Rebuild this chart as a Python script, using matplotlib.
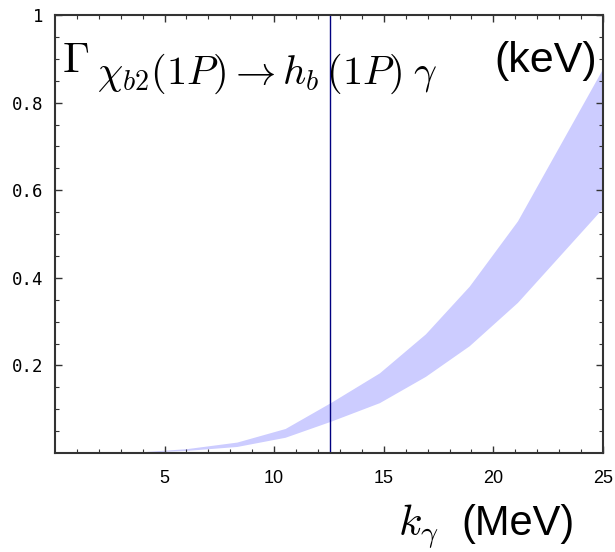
import matplotlib.pyplot as plt
import numpy as np

# photon energy samples (MeV) and band edges (keV)
k_gamma = np.array([0, 2, 4, 6, 8.3, 10.5, 12.6, 14.8, 16.9, 18.9, 21.1, 25])
width_upper = np.array([0, 0.0005, 0.003, 0.010, 0.025, 0.056, 0.116, 0.183, 0.272, 0.381, 0.530, 0.879])
width_lower = np.array([0, 0.0003, 0.002, 0.006, 0.015, 0.036, 0.073, 0.115, 0.175, 0.245, 0.344, 0.560])

k_line = 12.57
x_ticks = [5, 10, 15, 20, 25]
y_ticks = [0.2, 0.4, 0.6, 0.8, 1.0]
y_ticklabels = ['0.2', '0.4', '0.6', '0.8', '1']

plt.rcParams['mathtext.fontset'] = 'cm'

fig = plt.figure(figsize=(6.15, 5.52), dpi=100)
ax = fig.add_axes([0.0894, 0.1793, 0.891, 0.7935])

ax.fill_between(k_gamma, width_lower, width_upper, color='#ccccff', linewidth=0)
ax.axvline(k_line, color='#000080', linewidth=1)

ax.set_xlim(0, 25)
ax.set_ylim(0, 1)
ax.set_xticks(x_ticks)
ax.set_xticklabels([str(t) for t in x_ticks], family='Liberation Sans', fontsize=13)
ax.set_xticks(np.arange(1, 25), minor=True)
ax.set_yticks(y_ticks)
ax.set_yticklabels(y_ticklabels, family='DejaVu Sans Mono', fontsize=12.5)
ax.set_yticks(np.arange(0.05, 1.0, 0.05), minor=True)
ax.tick_params(which='both', direction='in', top=True, right=True, color='#333333')
ax.tick_params(which='major', length=5, width=1)
ax.tick_params(which='minor', length=3, width=0.8)
ax.tick_params(axis='x', pad=12)
ax.tick_params(axis='y', pad=8)
for s in ax.spines.values():
    s.set_linewidth(1.5)
    s.set_color('#333333')

# Gamma with its (large) subscript
ax.text(0.012, 0.870, r'$\Gamma$', transform=ax.transAxes, fontsize=31, va='baseline')
ax.text(0.077, 0.842, r'$\chi_{b2}(1P)\rightarrow h_b\,(1P)\;\gamma$', transform=ax.transAxes,
        fontsize=29, va='baseline')
ax.text(0.989, 0.870, '(keV)', transform=ax.transAxes, fontsize=31, ha='right', va='baseline',
        family='Liberation Sans')

fig.text(0.647, 0.03, r'$k_\gamma$', fontsize=31, ha='left', va='baseline')
fig.text(0.935, 0.03, '(MeV)', fontsize=30, ha='right', va='baseline',
         family='Liberation Sans')

plt.savefig('out.png', dpi=100)
